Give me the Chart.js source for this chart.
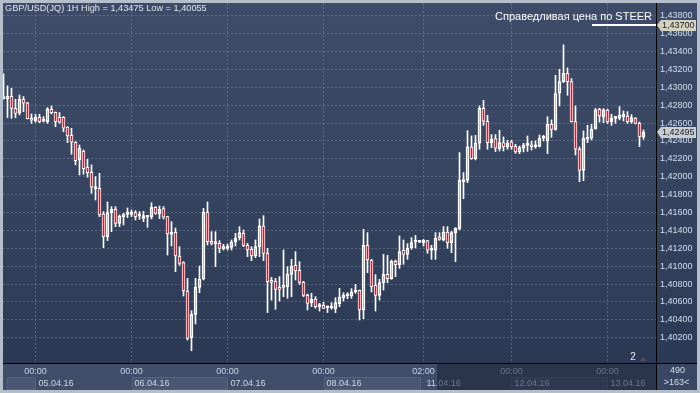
<!DOCTYPE html>
<html><head><meta charset="utf-8">
<script src="https://cdn.jsdelivr.net/npm/chart.js@4/dist/chart.umd.min.js"></script>
<style>html,body{margin:0;padding:0;background:#b5bfcc;overflow:hidden}canvas{display:block}</style>
</head><body><canvas id="c" width="700" height="393"></canvas>
<script>
// ---- data (GBP/USD 1H candles, index 0 = leftmost visible bar) ----
const opens = [1.42873,1.42873,1.42899,1.42765,1.42717,1.42866,1.42825,1.42653,1.42627,1.42665,
1.42624,1.42616,1.42754,1.42720,1.42665,1.42665,1.42553,1.42463,1.42385,1.42188,
1.42288,1.42106,1.42050,1.41867,1.41871,1.41584,1.41330,1.41599,1.41636,1.41479,
1.41554,1.41580,1.41580,1.41599,1.41565,1.41535,1.41550,1.41550,1.41658,1.41587,
1.41643,1.41554,1.41356,1.41379,1.41114,1.41040,1.40723,1.40201,1.40462,1.40764,
1.40857,1.41602,1.41278,1.41256,1.41256,1.41196,1.41200,1.41211,1.41274,1.41319,
1.41368,1.41233,1.41189,1.41114,1.41218,1.41450,1.41144,1.40835,1.40835,1.40764,
1.40764,1.40771,1.40909,1.41010,1.40954,1.40823,1.40674,1.40592,1.40630,1.40548,
1.40563,1.40536,1.40533,1.40525,1.40581,1.40648,1.40667,1.40667,1.40712,1.40730,
1.40510,1.41233,1.41066,1.40790,1.40674,1.40816,1.40909,1.40861,1.41054,1.41017,
1.41178,1.41133,1.41207,1.41271,1.41271,1.41263,1.41286,1.41178,1.41178,1.41327,
1.41293,1.41382,1.41263,1.41375,1.41420,1.41945,1.41960,1.42333,1.42202,1.42374,
1.42765,1.42620,1.42381,1.42426,1.42314,1.42381,1.42333,1.42389,1.42340,1.42277,
1.42318,1.42351,1.42355,1.42333,1.42340,1.42430,1.42400,1.42586,1.42530,1.42933,
1.43063,1.43157,1.43063,1.42616,1.42307,1.42072,1.42419,1.42430,1.42538,1.42754,
1.42668,1.42747,1.42616,1.42653,1.42653,1.42672,1.42679,1.42616,1.42657,1.42597,
1.42445];
const highs = [1.43149,1.43015,1.42989,1.42866,1.42914,1.42896,1.42832,1.42702,1.42698,1.42698,
1.42672,1.42773,1.42791,1.42724,1.42717,1.42672,1.42560,1.42542,1.42392,1.42355,
1.42299,1.42195,1.42132,1.42001,1.42038,1.41610,1.41718,1.41666,1.41666,1.41573,
1.41591,1.41651,1.41628,1.41621,1.41610,1.41614,1.41554,1.41710,1.41666,1.41673,
1.41666,1.41558,1.41498,1.41427,1.41218,1.41051,1.40864,1.40503,1.40864,1.41002,
1.41647,1.41718,1.41386,1.41386,1.41286,1.41245,1.41248,1.41293,1.41368,1.41442,
1.41405,1.41256,1.41218,1.41293,1.41528,1.41565,1.41200,1.40876,1.40864,1.40883,
1.41181,1.40995,1.41077,1.41163,1.41051,1.40830,1.40689,1.40697,1.40659,1.40585,
1.40596,1.40555,1.40592,1.40648,1.40753,1.40704,1.40704,1.40749,1.40797,1.40734,
1.41412,1.41375,1.41077,1.40905,1.40853,1.41133,1.41122,1.41069,1.41069,1.41338,
1.41293,1.41252,1.41319,1.41345,1.41278,1.41300,1.41289,1.41233,1.41375,1.41375,
1.41442,1.41442,1.41390,1.41431,1.42270,1.42046,1.42515,1.42456,1.42463,1.42791,
1.42855,1.42687,1.42471,1.42471,1.42519,1.42445,1.42407,1.42407,1.42363,1.42344,
1.42374,1.42456,1.42396,1.42400,1.42467,1.42463,1.42672,1.42635,1.43134,1.43201,
1.43475,1.43216,1.43097,1.42791,1.42333,1.42512,1.42575,1.42586,1.42765,1.42765,
1.42761,1.42754,1.42698,1.42661,1.42784,1.42735,1.42728,1.42694,1.42661,1.42612,
1.42523];
const lows = [1.42866,1.42661,1.42653,1.42661,1.42691,1.42728,1.42646,1.42597,1.42609,1.42605,
1.42612,1.42597,1.42702,1.42560,1.42597,1.42504,1.42381,1.42251,1.42132,1.42020,
1.42027,1.41994,1.41815,1.41740,1.41554,1.41207,1.41286,1.41386,1.41442,1.41442,
1.41461,1.41543,1.41554,1.41517,1.41524,1.41498,1.41435,1.41528,1.41580,1.41532,
1.41528,1.41125,1.41226,1.40939,1.41010,1.40667,1.40175,1.40055,1.40354,1.40704,
1.40846,1.41237,1.41237,1.40995,1.41151,1.41181,1.41181,1.41181,1.41226,1.41293,
1.41218,1.41107,1.41062,1.41096,1.41107,1.41062,1.40481,1.40622,1.40518,1.40611,
1.40659,1.40641,1.40659,1.40846,1.40797,1.40659,1.40510,1.40548,1.40529,1.40499,
1.40525,1.40481,1.40518,1.40481,1.40548,1.40611,1.40637,1.40641,1.40697,1.40399,
1.40413,1.40928,1.40712,1.40499,1.40622,1.40734,1.40816,1.40853,1.40883,1.40976,
1.41021,1.41077,1.41189,1.41204,1.41263,1.41226,1.41144,1.41077,1.41077,1.41289,
1.41282,1.41200,1.41151,1.41051,1.41405,1.41755,1.41934,1.42195,1.42188,1.42307,
1.42575,1.42307,1.42325,1.42281,1.42288,1.42288,1.42307,1.42307,1.42262,1.42258,
1.42277,1.42284,1.42299,1.42318,1.42333,1.42400,1.42258,1.42441,1.42519,1.42791,
1.43052,1.42911,1.42612,1.42243,1.41945,1.41956,1.42381,1.42411,1.42530,1.42612,
1.42605,1.42597,1.42575,1.42597,1.42635,1.42624,1.42597,1.42597,1.42590,1.42337,
1.42419];
const closes = [1.42896,1.42899,1.42765,1.42709,1.42866,1.42821,1.42650,1.42631,1.42665,1.42616,
1.42620,1.42758,1.42717,1.42616,1.42609,1.42542,1.42456,1.42385,1.42180,1.42318,
1.42091,1.42046,1.41882,1.41882,1.41573,1.41330,1.41599,1.41636,1.41479,1.41561,
1.41576,1.41606,1.41606,1.41554,1.41561,1.41565,1.41547,1.41658,1.41591,1.41636,
1.41547,1.41360,1.41379,1.41114,1.41032,1.40723,1.40194,1.40462,1.40764,1.40857,
1.41602,1.41274,1.41256,1.41252,1.41200,1.41218,1.41226,1.41271,1.41312,1.41375,
1.41233,1.41185,1.41114,1.41218,1.41450,1.41144,1.40827,1.40820,1.40741,1.40741,
1.40786,1.40913,1.40999,1.40946,1.40820,1.40674,1.40585,1.40630,1.40548,1.40563,
1.40529,1.40540,1.40540,1.40592,1.40656,1.40674,1.40671,1.40712,1.40723,1.40510,
1.41233,1.41069,1.40771,1.40674,1.40816,1.40909,1.40861,1.41054,1.41017,1.41163,
1.41133,1.41200,1.41263,1.41274,1.41268,1.41293,1.41178,1.41181,1.41312,1.41300,
1.41382,1.41263,1.41375,1.41423,1.41960,1.41964,1.42333,1.42202,1.42374,1.42765,
1.42620,1.42381,1.42419,1.42318,1.42381,1.42337,1.42374,1.42333,1.42277,1.42325,
1.42355,1.42355,1.42333,1.42344,1.42430,1.42437,1.42586,1.42530,1.42929,1.43063,
1.43157,1.43063,1.42616,1.42307,1.42072,1.42430,1.42437,1.42530,1.42747,1.42679,
1.42747,1.42612,1.42653,1.42657,1.42687,1.42698,1.42616,1.42661,1.42597,1.42445,
1.42495];

// x-axis ticks (bar index -> labels)
const tickIndex  = [8, 32, 56, 80, 105, 127, 151];
const timeLabels = ['00:00','00:00','00:00','00:00','02:00','00:00','00:00'];
const dateLabels = ['05.04.16','06.04.16','07.04.16','08.04.16','11.04.16','12.04.16','13.04.16'];
const dayBoxes   = [[-1, 8], [32, 56], [80, 104.4], [127, 151]];   // alternating day bands (bar index)
const shadeFrom  = 108.4;                                           // bar index where dim overlay starts
// y-axis ticks
const yTicks = [1.402,1.404,1.406,1.408,1.410,1.412,1.414,1.416,1.418,1.420,
                1.422,1.424,1.426,1.428,1.430,1.432,1.434,1.436,1.438];
const yMin = 1.39918, yMax = 1.43942;
const xMin = -0.125, xMax = 163.125;
// annotations
const titleText  = 'GBP/USD(JQ) 1H High = 1,43475 Low = 1,40055';
const steerLevel = 1.437;
const steerText  = 'Справедливая цена по STEER';
const lastPrice  = 1.42495;
const cornerTop  = '490';
const cornerBot  = '>163<';
const markerText = '2';

const FONT = '"Liberation Sans", Arial, sans-serif';
const fmt = v => v.toFixed(5).replace('.', ',');
const UP_FILL = 'rgba(0,0,0,0)', DOWN_FILL = '#e8102e';

const upperWick = opens.map((o, i) => ({x: i, y: [Math.max(o, closes[i]), highs[i]]}));
const lowerWick = opens.map((o, i) => ({x: i, y: [lows[i], Math.min(o, closes[i])]}));
const bodies    = opens.map((o, i) => ({x: i, y: [o, closes[i]]}));
const bodyFill  = opens.map((o, i) => closes[i] < o ? DOWN_FILL : UP_FILL);

function zeroPad(s){ s.paddingLeft = 0; s.paddingRight = 0; s.paddingTop = 0; s.paddingBottom = 0; }

const frame = {
  id: 'frame',
  beforeDraw(chart) {
    const {ctx, chartArea: ca} = chart;
    const W = chart.width, H = chart.height;
    const xs = chart.scales.x, x2 = chart.scales.x2;
    ctx.save();
    ctx.fillStyle = '#b5bfcc'; ctx.fillRect(0, 0, W, H);
    const g = ctx.createLinearGradient(0, ca.top, 0, ca.bottom);
    g.addColorStop(0, '#3f4c69'); g.addColorStop(0.35, '#3a4763'); g.addColorStop(1, '#2c3955');
    ctx.fillStyle = g; ctx.fillRect(ca.left, ca.top, W - 3 - ca.left, ca.bottom - ca.top);
    const bTop = ca.bottom, bBot = x2.bottom, rowTop = x2.top;
    ctx.fillStyle = '#414e69'; ctx.fillRect(ca.left, bTop, ca.right - ca.left, bBot - bTop);
    dayBoxes.forEach(([a, b]) => {
      const xa = Math.max(ca.left + 4, Math.round(xs.getPixelForValue(a)));
      const xb = Math.round(xs.getPixelForValue(b));
      ctx.fillStyle = '#4a5773'; ctx.fillRect(xa, rowTop, xb - xa, bBot - rowTop);
      ctx.strokeStyle = '#55627e'; ctx.lineWidth = 1;
      ctx.strokeRect(xa + 0.5, rowTop + 0.5, xb - xa - 1, bBot - rowTop - 1);
    });
    ctx.fillStyle = '#3a4763'; ctx.fillRect(ca.right, bTop, W - 3 - ca.right, bBot - bTop);
    ctx.restore();
  },
  afterDraw(chart) {
    const {ctx, chartArea: ca} = chart;
    const W = chart.width;
    const xs = chart.scales.x, ys = chart.scales.y, x2 = chart.scales.x2;
    const bTop = ca.bottom, bBot = x2.bottom;
    ctx.save();
    // dim overlay on right part of time panel
    const sx = Math.round(xs.getPixelForValue(shadeFrom));
    ctx.fillStyle = 'rgba(24,33,52,0.55)';
    ctx.fillRect(sx, bTop + 1, ca.right - sx, bBot - bTop - 1);
    // black separators
    ctx.strokeStyle = '#000'; ctx.lineWidth = 1;
    ctx.beginPath();
    ctx.moveTo(ca.left, bTop + 0.5); ctx.lineTo(W - 3, bTop + 0.5);
    ctx.moveTo(ca.right + 0.5, ca.top); ctx.lineTo(ca.right + 0.5, bBot);
    ctx.stroke();
    // title
    ctx.font = '9.2px ' + FONT; ctx.fillStyle = '#dfe5ee';
    ctx.textAlign = 'left'; ctx.textBaseline = 'alphabetic';
    ctx.fillText(titleText, ca.left + 2, ca.top + 8);
    // STEER fair value
    const sy = Math.round(ys.getPixelForValue(steerLevel));
    ctx.fillStyle = '#ffffff';
    ctx.fillRect(ca.right - 64, sy - 1, 64, 2);
    ctx.font = '11px ' + FONT; ctx.textAlign = 'right';
    ctx.fillText(steerText, ca.right - 4, sy - 5);
    // price boxes on the axis
    const box = (val, fill) => {
      const py = Math.round(ys.getPixelForValue(val));
      const x0 = ca.right + 1;
      ctx.fillStyle = fill;
      ctx.beginPath();
      ctx.moveTo(x0, py); ctx.lineTo(x0 + 4, py - 5); ctx.lineTo(x0 + 39, py - 5);
      ctx.lineTo(x0 + 39, py + 6); ctx.lineTo(x0 + 4, py + 6); ctx.closePath(); ctx.fill();
      ctx.fillStyle = '#1c1c1c'; ctx.font = '9px ' + FONT;
      ctx.textAlign = 'left'; ctx.textBaseline = 'middle';
      ctx.fillText(fmt(val), x0 + 5, py + 0.5);
    };
    box(steerLevel, '#d3d1bf');
    box(lastPrice, '#c9ced5');
    // small marker near bottom right
    ctx.font = '10px ' + FONT; ctx.fillStyle = '#e8eef6';
    ctx.textAlign = 'center'; ctx.textBaseline = 'middle';
    ctx.fillText(markerText, ca.right - 23, bTop - 6);
    ctx.fillStyle = '#5c4b5f';
    ctx.beginPath(); ctx.moveTo(ca.right - 16, bTop - 2); ctx.lineTo(ca.right - 13, bTop - 6);
    ctx.lineTo(ca.right - 10, bTop - 2); ctx.closePath(); ctx.fill();
    // corner texts
    const cx = (ca.right + W - 3) / 2;
    ctx.font = '9px ' + FONT; ctx.fillStyle = '#d4deec';
    ctx.fillText(cornerTop, cx + 1, bTop + 8);
    ctx.fillText(cornerBot, cx, bTop + 20);
    ctx.restore();
  }
};

const common = {type: 'bar', grouped: false, parsing: true};
new Chart(document.getElementById('c'), {
  type: 'bar',
  data: {
    datasets: [
      Object.assign({data: upperWick, backgroundColor: '#ffffff', borderWidth: 0, barThickness: 1}, common),
      Object.assign({data: lowerWick, backgroundColor: '#ffffff', borderWidth: 0, barThickness: 1}, common),
      Object.assign({data: bodies, backgroundColor: bodyFill, borderColor: '#ffffff', borderWidth: 1,
                     borderSkipped: false, barThickness: 3, minBarLength: 2}, common)
    ]
  },
  options: {
    responsive: false, animation: false, devicePixelRatio: 1, events: [],
    layout: {padding: {left: 3, top: 3, right: 3, bottom: 3}},
    plugins: {legend: {display: false}, tooltip: {enabled: false}, title: {display: false}},
    scales: {
      x: {
        type: 'linear', position: 'bottom', min: xMin, max: xMax, offset: false, weight: 0,
        afterBuildTicks: s => { s.ticks = tickIndex.map(v => ({value: v})); },
        afterFit: s => { s.height = 14; zeroPad(s); },
        ticks: {autoSkip: false, maxRotation: 0, padding: 3, color: '#c6d5ea',
                font: {family: FONT, size: 9}, callback: (v, i) => timeLabels[i]},
        grid: {display: true, offset: false, drawTicks: false, color: 'rgba(125,140,170,0.5)', lineWidth: 1},
        border: {display: false, dash: [2, 2]}
      },
      x2: {
        type: 'linear', position: 'bottom', min: xMin, max: xMax, offset: false, weight: 1,
        afterBuildTicks: s => { s.ticks = tickIndex.map(v => ({value: v})); },
        afterFit: s => { s.height = 13; zeroPad(s); },
        ticks: {autoSkip: false, maxRotation: 0, padding: 1, align: 'start', labelOffset: 3,
                color: '#cfd8e5', font: {family: FONT, size: 9}, callback: (v, i) => dateLabels[i]},
        grid: {display: false, drawTicks: false},
        border: {display: false}
      },
      y: {
        type: 'linear', position: 'right', min: yMin, max: yMax,
        afterBuildTicks: s => { s.ticks = yTicks.map(v => ({value: v})); },
        afterFit: s => { s.width = 41; zeroPad(s); },
        ticks: {padding: 4, color: '#d3dff0', font: {family: FONT, size: 9}, callback: v => fmt(v)},
        grid: {display: true, drawTicks: false, color: 'rgba(125,140,170,0.5)', lineWidth: 1},
        border: {display: false, dash: [2, 2]}
      }
    }
  },
  plugins: [frame]
});
</script>
</body></html>
